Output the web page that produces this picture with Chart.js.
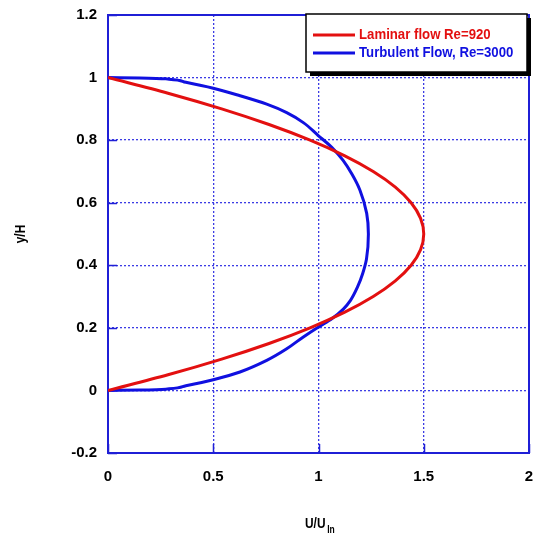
<!DOCTYPE html>
<html>
<head>
<meta charset="utf-8">
<script src="https://cdn.jsdelivr.net/npm/chart.js@4.4.0/dist/chart.umd.min.js"></script>
<style>
html,body{margin:0;padding:0;background:#fff;}
#wrap{width:537px;height:534px;position:relative;}
</style>
</head>
<body>
<div id="wrap"><canvas id="c" width="537" height="534"></canvas></div>
<script>
// Values
const laminarLabel = 'Laminar flow Re=920';
const laminarU = [0, 0.285, 0.54, 0.765, 0.96, 1.125, 1.26, 1.365, 1.44, 1.485, 1.5, 1.485, 1.44, 1.365, 1.26, 1.125, 0.96, 0.765, 0.54, 0.285, 0];
const laminarY = [0, 0.05, 0.1, 0.15, 0.2, 0.25, 0.3, 0.35, 0.4, 0.45, 0.5, 0.55, 0.6, 0.65, 0.7, 0.75, 0.8, 0.85, 0.9, 0.95, 1];

const turbLabel = 'Turbulent Flow, Re=3000';
const turbU = [0, 0.15, 0.29, 0.37, 0.5, 0.627, 0.754, 0.849, 0.928, 1.0, 1.063, 1.118, 1.152, 1.185, 1.21, 1.228, 1.237, 1.229, 1.197, 1.16, 1.116, 1.063, 1.0, 0.928, 0.849, 0.754, 0.627, 0.5, 0.37, 0.29, 0.15, 0];
const turbY = [0, 0.001, 0.005, 0.015, 0.034, 0.059, 0.096, 0.133, 0.171, 0.203, 0.229, 0.26, 0.288, 0.33, 0.374, 0.42, 0.5, 0.566, 0.64, 0.69, 0.736, 0.777, 0.814, 0.856, 0.888, 0.915, 0.942, 0.966, 0.985, 0.995, 0.999, 1];

const xTicks = [0, 0.5, 1, 1.5, 2];
const yTicks = [-0.2, 0, 0.2, 0.4, 0.6, 0.8, 1, 1.2];

const FONT = '"Liberation Sans", Arial, sans-serif';
const frameColor = '#1f1fd6';
const gridColor = '#3c3ce4';

function pts(xs, ys){ return xs.map((v,i)=>({x:v, y:ys[i]})); }

const framePlugin = {
  id:'frame',
  beforeDatasetsDraw(chart){
    const {ctx, chartArea:a, scales} = chart;
    ctx.save();
    ctx.strokeStyle = frameColor;
    ctx.lineWidth = 1.5;
    ctx.setLineDash([]);
    ctx.beginPath();
    xTicks.forEach(v=>{
      const px = Math.round(scales.x.getPixelForValue(v))+0.5;
      ctx.moveTo(px, a.bottom); ctx.lineTo(px, a.bottom-9);
    });
    yTicks.forEach(v=>{
      const py = Math.round(scales.y.getPixelForValue(v))+0.5;
      ctx.moveTo(a.left, py); ctx.lineTo(a.left+9, py);
    });
    ctx.stroke();
    ctx.lineWidth = 2;
    ctx.strokeRect(a.left, a.top, a.right-a.left, a.bottom-a.top);
    ctx.restore();
  },
  afterDraw(chart){
    const {ctx} = chart;
    ctx.save();
    const bx = 306, by = 14, bw = 221, bh = 58;
    ctx.fillStyle = '#000';
    ctx.fillRect(bx+4, by+4, bw, bh);
    ctx.fillStyle = '#fff';
    ctx.fillRect(bx, by, bw, bh);
    ctx.strokeStyle = '#000';
    ctx.lineWidth = 1.5;
    ctx.strokeRect(bx, by, bw, bh);
    const rows = [35, 53];
    ctx.textBaseline = 'middle';
    chart.data.datasets.forEach((d,i)=>{
      ctx.strokeStyle = d.borderColor;
      ctx.lineWidth = 3;
      ctx.beginPath(); ctx.moveTo(313, rows[i]); ctx.lineTo(355, rows[i]); ctx.stroke();
      ctx.save();
      ctx.font = 'bold 15px ' + FONT;
      ctx.translate(359, rows[i]);
      ctx.scale(0.88, 1);
      ctx.fillStyle = d.borderColor;
      ctx.fillText(d.label, 0, 0);
      ctx.restore();
    });
    ctx.fillStyle = '#000';
    ctx.textBaseline = 'alphabetic';
    ctx.textAlign = 'left';
    ctx.save();
    ctx.translate(305, 528);
    ctx.scale(0.85, 1);
    ctx.font = 'bold 14px ' + FONT;
    const t = 'U/U';
    ctx.fillText(t, 0, 0);
    const w = ctx.measureText(t).width;
    ctx.font = 'bold 10px ' + FONT;
    ctx.fillText('In', w + 2, 5);
    ctx.restore();
    ctx.font = 'bold 14px ' + FONT;
    ctx.translate(21, 234);
    ctx.rotate(-Math.PI/2);
    ctx.scale(0.85, 1);
    ctx.textAlign = 'center';
    ctx.textBaseline = 'middle';
    ctx.fillText('y/H', 0, 0);
    ctx.restore();
  }
};

new Chart(document.getElementById('c'), {
  type: 'scatter',
  data: {
    datasets: [
      {label: laminarLabel, data: pts(laminarU, laminarY), showLine: true, indexAxis: 'y', cubicInterpolationMode: 'monotone', borderColor: '#e31010', backgroundColor: '#e31010', borderWidth: 3, pointRadius: 0},
      {label: turbLabel, data: pts(turbU, turbY), showLine: true, indexAxis: 'y', cubicInterpolationMode: 'monotone', borderColor: '#1010e0', backgroundColor: '#1010e0', borderWidth: 3, pointRadius: 0}
    ]
  },
  options: {
    responsive: false,
    animation: false,
    devicePixelRatio: 1,
    layout: {padding: {left: 0, right: 8, top: 15, bottom: 0}},
    plugins: {legend: {display: false}, tooltip: {enabled: false}},
    scales: {
      x: {
        type: 'linear', min: 0, max: 2,
        afterBuildTicks(s){ s.ticks = xTicks.map(v=>({value:v})); },
        afterFit(s){ s.height = 81; s.paddingLeft = 0; s.paddingRight = 0; },
        ticks: {padding: 15, color: '#000', font: {family: FONT, size: 15, weight: 'bold'}, callback: v => String(v)},
        grid: {color: gridColor, lineWidth: 1.3, drawTicks: false},
        border: {display: false, dash: [2, 2]}
      },
      y: {
        type: 'linear', min: -0.2, max: 1.2,
        afterBuildTicks(s){ s.ticks = yTicks.map(v=>({value:v})); },
        afterFit(s){ s.width = 108; s.paddingTop = 0; s.paddingBottom = 0; },
        ticks: {padding: 11, color: '#000', font: {family: FONT, size: 15, weight: 'bold'}, callback: v => String(Math.round(v*10)/10)},
        grid: {color: gridColor, lineWidth: 1.3, drawTicks: false},
        border: {display: false, dash: [2, 2]}
      }
    }
  },
  plugins: [framePlugin]
});
</script>
</body>
</html>
